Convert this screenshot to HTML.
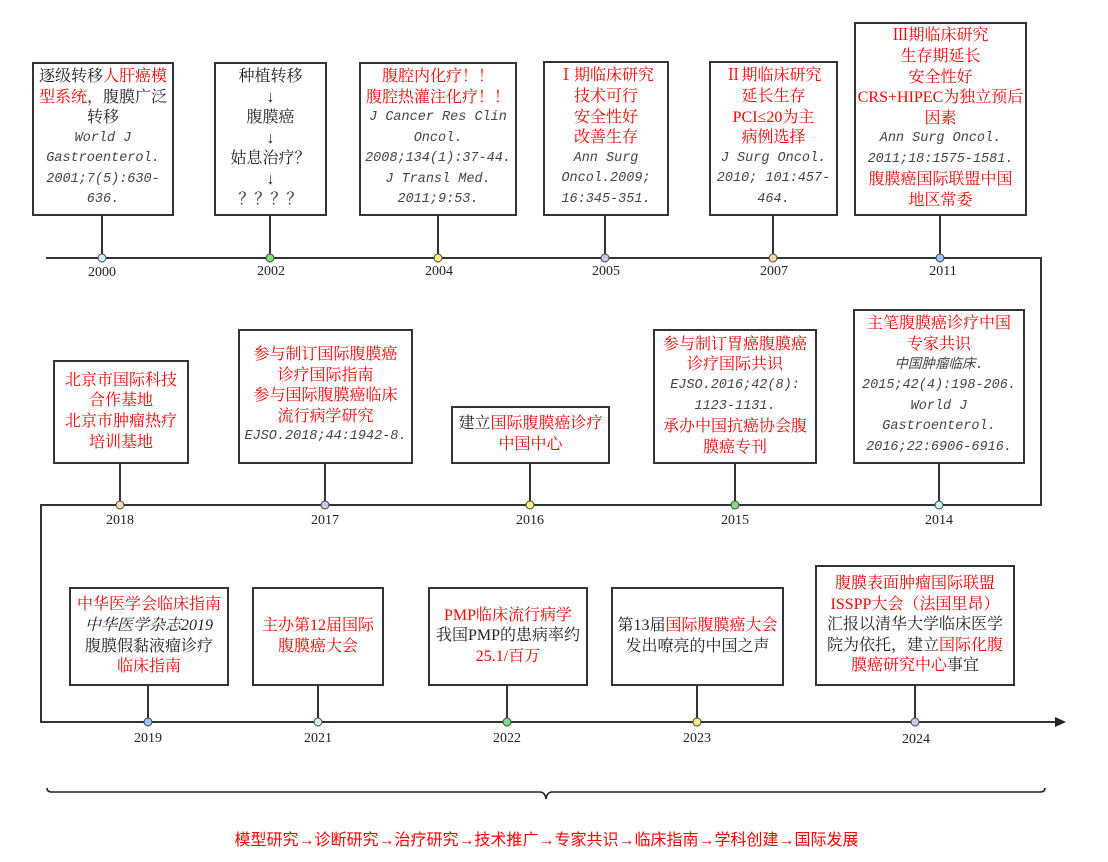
<!DOCTYPE html>
<html><head><meta charset="utf-8"><style>
body{margin:0;width:1108px;height:862px;background:#fff;position:relative;overflow:hidden;font-family:"Liberation Serif","Noto Serif CJK SC",serif;color:#222}
.b{position:absolute;box-sizing:border-box;border:2px solid #333;background:#fff;display:flex;flex-direction:column;justify-content:center;align-items:center;text-align:center;font-size:16px;line-height:20.6px;white-space:nowrap}
.r{color:#f00}
.i{font-family:"Liberation Mono","Noto Sans CJK SC",monospace;font-style:italic;font-size:13.5px;color:#444}
.l{position:absolute;background:#333}
.d{position:absolute;width:9px;height:9px;border-radius:50%;border:1.5px solid #444;box-sizing:border-box;transform:translate(-50%,-50%)}
.y{position:absolute;font-size:14px;transform:translateX(-50%);color:#222}
</style></head><body>
<div class="l" style="left:46px;top:257px;width:996px;height:2px"></div>
<div class="l" style="left:1040px;top:257px;width:2px;height:249px"></div>
<div class="l" style="left:40px;top:504px;width:1002px;height:2px"></div>
<div class="l" style="left:40px;top:504px;width:2px;height:219px"></div>
<div class="l" style="left:40px;top:721px;width:1018px;height:2px"></div>
<svg style="position:absolute;left:1055px;top:717px" width="12" height="10"><polygon points="0,0 11,5 0,10" fill="#222"/></svg>

<!-- row1 -->
<div class="b" style="left:32px;top:62px;width:142px;height:154px"><div>逐级转移<span class="r">人肝癌模</span><br><span class="r">型系统</span>，腹膜广泛<br>转移</div><div class="i">World J<br>Gastroenterol.<br>2001;7(5):630-<br>636.</div></div>
<div class="b" style="left:214px;top:62px;width:113px;height:154px"><div>种植转移<br>↓<br>腹膜癌<br>↓<br>姑息治疗？<br>↓<br>？？？？</div></div>
<div class="b" style="left:359px;top:62px;width:158px;height:154px"><div class="r">腹腔内化疗！！<br>腹腔热灌注化疗！！</div><div class="i">J Cancer Res Clin<br>Oncol.<br>2008;134(1):37-44.<br>J Transl Med.<br>2011;9:53.</div></div>
<div class="b" style="left:543px;top:61px;width:126px;height:155px"><div class="r">Ⅰ期临床研究<br>技术可行<br>安全性好<br>改善生存</div><div class="i">Ann Surg<br>Oncol.2009;<br>16:345-351.</div></div>
<div class="b" style="left:709px;top:61px;width:129px;height:155px"><div class="r">Ⅱ期临床研究<br>延长生存<br>PCI≤20为主<br>病例选择</div><div class="i">J Surg Oncol.<br>2010; 101:457-<br>464.</div></div>
<div class="b" style="left:854px;top:22px;width:173px;height:194px"><div class="r">Ⅲ期临床研究<br>生存期延长<br>安全性好<br>CRS+HIPEC为独立预后<br>因素</div><div class="i">Ann Surg Oncol.<br>2011;18:1575-1581.</div><div class="r">腹膜癌国际联盟中国<br>地区常委</div></div>
<div class="l" style="left:101px;top:216px;width:2px;height:42px"></div>
<div class="l" style="left:269px;top:216px;width:2px;height:42px"></div>
<div class="l" style="left:437px;top:216px;width:2px;height:42px"></div>
<div class="l" style="left:604px;top:216px;width:2px;height:42px"></div>
<div class="l" style="left:772px;top:216px;width:2px;height:42px"></div>
<div class="l" style="left:939px;top:216px;width:2px;height:42px"></div>
<div class="d" style="left:102px;top:258px;background:#c8f0f5"></div>
<div class="d" style="left:270px;top:258px;background:#7ee07e"></div>
<div class="d" style="left:438px;top:258px;background:#f5ef80"></div>
<div class="d" style="left:605px;top:258px;background:#c8c8f0"></div>
<div class="d" style="left:773px;top:258px;background:#f5d8b0"></div>
<div class="d" style="left:940px;top:258px;background:#9cc4f0"></div>
<div class="y" style="left:102px;top:265px">2000</div>
<div class="y" style="left:271px;top:264px">2002</div>
<div class="y" style="left:439px;top:264px">2004</div>
<div class="y" style="left:606px;top:264px">2005</div>
<div class="y" style="left:774px;top:264px">2007</div>
<div class="y" style="left:943px;top:264px">2011</div>

<!-- row2 -->
<div class="b" style="left:53px;top:360px;width:136px;height:104px"><div class="r">北京市国际科技<br>合作基地<br>北京市肿瘤热疗<br>培训基地</div></div>
<div class="b" style="left:238px;top:329px;width:175px;height:135px"><div class="r">参与制订国际腹膜癌<br>诊疗国际指南<br>参与国际腹膜癌临床<br>流行病学研究</div><div class="i">EJSO.2018;44:1942-8.</div></div>
<div class="b" style="left:451px;top:406px;width:159px;height:58px"><div>建立<span class="r">国际腹膜癌诊疗</span><br><span class="r">中国中心</span></div></div>
<div class="b" style="left:653px;top:329px;width:164px;height:135px"><div class="r">参与制订胃癌腹膜癌<br>诊疗国际共识</div><div class="i">EJSO.2016;42(8):<br>1123-1131.</div><div class="r">承办中国抗癌协会腹<br>膜癌专刊</div></div>
<div class="b" style="left:853px;top:309px;width:172px;height:155px"><div class="r">主笔腹膜癌诊疗中国<br>专家共识</div><div class="i">中国肿瘤临床.<br>2015;42(4):198-206.<br>World  J<br>Gastroenterol.<br>2016;22:6906-6916.</div></div>
<div class="l" style="left:119px;top:464px;width:2px;height:41px"></div>
<div class="l" style="left:324px;top:464px;width:2px;height:41px"></div>
<div class="l" style="left:529px;top:464px;width:2px;height:41px"></div>
<div class="l" style="left:734px;top:464px;width:2px;height:41px"></div>
<div class="l" style="left:938px;top:464px;width:2px;height:41px"></div>
<div class="d" style="left:120px;top:505px;background:#f5d8b0"></div>
<div class="d" style="left:325px;top:505px;background:#c8c8f0"></div>
<div class="d" style="left:530px;top:505px;background:#f5ef80"></div>
<div class="d" style="left:735px;top:505px;background:#7ee07e"></div>
<div class="d" style="left:939px;top:505px;background:#c8f0f5"></div>
<div class="y" style="left:120px;top:513px">2018</div>
<div class="y" style="left:325px;top:513px">2017</div>
<div class="y" style="left:530px;top:513px">2016</div>
<div class="y" style="left:735px;top:513px">2015</div>
<div class="y" style="left:939px;top:513px">2014</div>

<!-- row3 -->
<div class="b" style="left:69px;top:587px;width:160px;height:99px"><div><span class="r">中华医学会临床指南</span><br><i>中华医学杂志2019</i><br>腹膜假黏液瘤诊疗<br><span class="r">临床指南</span></div></div>
<div class="b" style="left:252px;top:587px;width:132px;height:99px"><div class="r">主办第12届国际<br>腹膜癌大会</div></div>
<div class="b" style="left:428px;top:587px;width:160px;height:99px"><div><span class="r">PMP临床流行病学</span><br>我国PMP的患病率约<br><span class="r">25.1/百万</span></div></div>
<div class="b" style="left:611px;top:587px;width:173px;height:99px"><div>第13届<span class="r">国际腹膜癌大会</span><br>发出嘹亮的中国之声</div></div>
<div class="b" style="left:815px;top:565px;width:200px;height:121px"><div><span class="r">腹膜表面肿瘤国际联盟<br>ISSPP大会（法国里昂）</span><br>汇报以清华大学临床医学<br>院为依托，建立<span class="r">国际化腹</span><br><span class="r">膜癌研究中心</span>事宜</div></div>
<div class="l" style="left:147px;top:686px;width:2px;height:36px"></div>
<div class="l" style="left:317px;top:686px;width:2px;height:36px"></div>
<div class="l" style="left:506px;top:686px;width:2px;height:36px"></div>
<div class="l" style="left:696px;top:686px;width:2px;height:36px"></div>
<div class="l" style="left:914px;top:686px;width:2px;height:36px"></div>
<div class="d" style="left:148px;top:722px;background:#9cc4f0"></div>
<div class="d" style="left:318px;top:722px;background:#c8f0f5"></div>
<div class="d" style="left:507px;top:722px;background:#7ee07e"></div>
<div class="d" style="left:697px;top:722px;background:#f5ef80"></div>
<div class="d" style="left:915px;top:722px;background:#c8c8f0"></div>
<div class="y" style="left:148px;top:731px">2019</div>
<div class="y" style="left:318px;top:731px">2021</div>
<div class="y" style="left:507px;top:731px">2022</div>
<div class="y" style="left:697px;top:731px">2023</div>
<div class="y" style="left:916px;top:732px">2024</div>

<svg style="position:absolute;left:0;top:780px" width="1108" height="30"><path d="M47,8 Q47,12 52,12 L540,12 Q545,12 546,19 Q547,12 552,12 L1040,12 Q1045,12 1045,8" fill="none" stroke="#222" stroke-width="1.6"/></svg>
<div style="position:absolute;left:0;width:1093px;top:826px;text-align:center;color:#f00;font-size:16px;font-family:'Liberation Sans','Noto Sans CJK SC',sans-serif">模型研究→诊断研究→治疗研究→技术推广→专家共识→临床指南→学科创建→国际发展</div>
</body></html>
